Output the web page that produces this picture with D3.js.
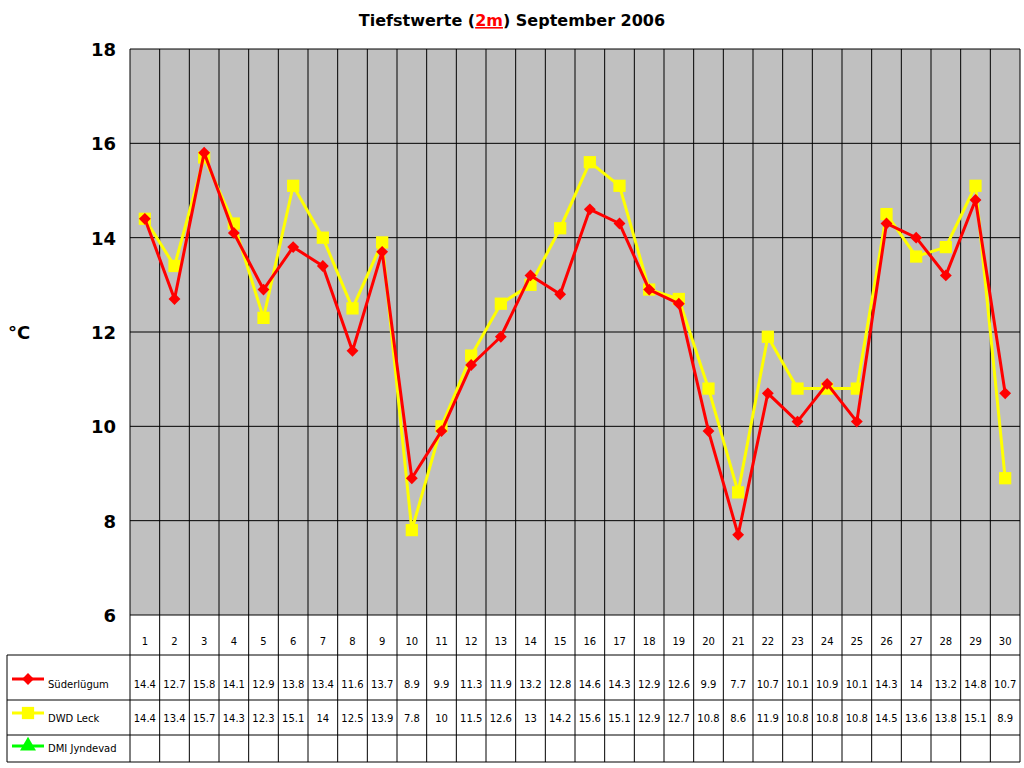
<!DOCTYPE html>
<html><head><meta charset="utf-8">
<script src="https://cdn.jsdelivr.net/npm/d3@7"></script>
<style>body{margin:0;background:#fff}text{font-family:Verdana,"DejaVu Sans",sans-serif}</style>
</head><body>
<svg width="1024" height="768"></svg>
<script>
const days = d3.range(1, 31);
const suederluegum = [14.4,12.7,15.8,14.1,12.9,13.8,13.4,11.6,13.7,8.9,9.9,11.3,11.9,13.2,12.8,14.6,14.3,12.9,12.6,9.9,7.7,10.7,10.1,10.9,10.1,14.3,14,13.2,14.8,10.7];
const dwdLeck = [14.4,13.4,15.7,14.3,12.3,15.1,14,12.5,13.9,7.8,10,11.5,12.6,13,14.2,15.6,15.1,12.9,12.7,10.8,8.6,11.9,10.8,10.8,10.8,14.5,13.6,13.8,15.1,8.9];
const yTicks = [6,8,10,12,14,16,18];
const series = [
  {name:"Süderlügum", values:suederluegum, color:"#ff0000", shape:d3.symbolSquare, rot:45, size:70},
  {name:"DWD Leck", values:dwdLeck, color:"#ffff00", shape:d3.symbolSquare, rot:0, size:150},
  {name:"DMI Jyndevad", values:[], color:"#00ff00", shape:d3.symbolTriangle, rot:0, size:110}
];

const svg = d3.select("svg");
const L = 130, R = 1020, T = 49, B = 615;
const x = d3.scaleBand().domain(days).range([L, R]);
const y = d3.scaleLinear().domain([6, 18]).range([B, T]);

// title
const title = svg.append("text").attr("x", 512).attr("y", 26).attr("text-anchor", "middle")
  .attr("font-size", 16).attr("font-weight", "bold");
title.append("tspan").text("Tiefstwerte (");
title.append("tspan").text("2m").attr("fill", "#ff0000").attr("text-decoration", "underline");
title.append("tspan").text(") September 2006");

svg.append("rect").attr("x", L).attr("y", T).attr("width", R - L).attr("height", B - T).attr("fill", "#c0c0c0");

// grid
svg.append("g").selectAll("line").data(yTicks).join("line")
  .attr("x1", L).attr("x2", R).attr("y1", d => y(d)).attr("y2", d => y(d)).attr("stroke", "#000");
svg.append("g").selectAll("line").data(days.concat([31])).join("line")
  .attr("x1", d => d === 31 ? R : x(d)).attr("x2", d => d === 31 ? R : x(d))
  .attr("y1", T).attr("y2", 762).attr("stroke", "#000");

svg.append("g").selectAll("text").data(yTicks).join("text")
  .attr("x", 116).attr("y", d => y(d) + 7).attr("text-anchor", "end")
  .attr("font-size", 18).attr("font-weight", "bold").text(d => d);
svg.append("text").attr("x", 8).attr("y", 339).attr("font-size", 18).attr("font-weight", "bold").text("°C");

// table
const rows = [655, 700, 735, 762];
svg.append("g").selectAll("line").data(rows).join("line")
  .attr("x1", 7).attr("x2", R).attr("y1", d => d).attr("y2", d => d).attr("stroke", "#000");
svg.append("line").attr("x1", 7).attr("x2", 7).attr("y1", 655).attr("y2", 762).attr("stroke", "#000");
svg.append("g").selectAll("text").data(days).join("text")
  .attr("x", d => x(d) + x.bandwidth() / 2).attr("y", 645).attr("text-anchor", "middle")
  .attr("font-size", 10).text(d => d);

const cx = d => x(d) + x.bandwidth() / 2;
const line = d3.line().x((v, i) => cx(days[i])).y(v => y(v));

series.forEach((s, k) => {
  const ry = [688, 722, 752][k];
  const ly = [679, 713, 746][k];
  svg.append("line").attr("x1", 12).attr("x2", 44).attr("y1", ly).attr("y2", ly)
    .attr("stroke", s.color).attr("stroke-width", 3);
  svg.append("path").attr("d", d3.symbol(s.shape, s.size)()).attr("transform", `translate(28,${ly}) rotate(${s.rot})`)
    .attr("fill", s.color);
  svg.append("text").attr("x", 48).attr("y", ry).attr("font-size", 10).text(s.name);
  svg.append("g").selectAll("text").data(s.values).join("text")
    .attr("x", (v, i) => cx(days[i])).attr("y", ry).attr("text-anchor", "middle")
    .attr("font-size", 10).text(v => v);
});

// series lines, Süderlügum drawn on top
[series[1], series[0]].forEach(s => {
  svg.append("path").datum(s.values).attr("d", line).attr("fill", "none")
    .attr("stroke", s.color).attr("stroke-width", 3);
  svg.append("g").selectAll("path").data(s.values).join("path")
    .attr("d", d3.symbol(s.shape, s.size)())
    .attr("transform", (v, i) => `translate(${cx(days[i])},${y(v)}) rotate(${s.rot})`)
    .attr("fill", s.color);
});
</script>
</body></html>
